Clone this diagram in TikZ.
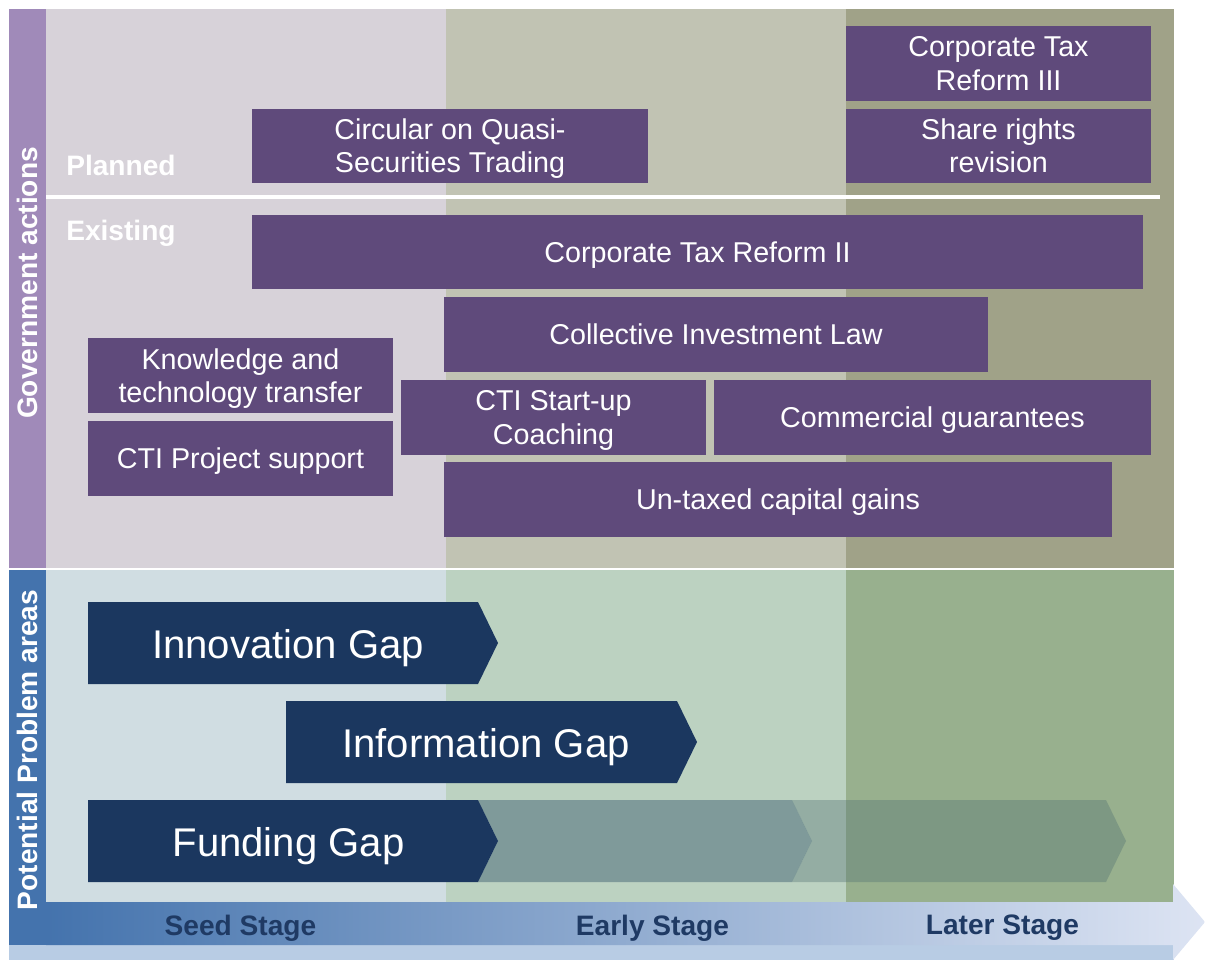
\documentclass[tikz,border=0pt]{standalone}
\usepackage{fontspec}
\setmainfont{Liberation Sans}
\usepackage{xcolor}
\definecolor{actpurple}{HTML}{5F4A7B}
\definecolor{govbar}{HTML}{A08AB9}
\definecolor{probbar}{HTML}{4473AD}
\definecolor{seedtop}{HTML}{D7D2D9}
\definecolor{earlytop}{HTML}{C1C3B3}
\definecolor{latertop}{HTML}{A0A288}
\definecolor{seedbot}{HTML}{D0DDE2}
\definecolor{earlybot}{HTML}{BCD2C1}
\definecolor{laterbot}{HTML}{98B08E}
\definecolor{gapnavy}{HTML}{1B375F}
\definecolor{fundext}{HTML}{7F9A9A}
\definecolor{fundfade}{HTML}{557374}
\definecolor{stagenavy}{HTML}{1F3A64}
\definecolor{stagestrip}{HTML}{B8CCE4}
\definecolor{stagemid}{HTML}{BCCDEA}
\definecolor{stageright}{HTML}{DDE4F3}
\usepackage{tikz}
\newcommand{\pxu}{0.025cm}
\tikzset{
  act/.style={fill=actpurple, text=white, align=center, inner sep=0pt,
    text depth=-2pt, font=\fontsize{20.4}{23.5}\selectfont},
  gaplabel/.style={text=white, inner sep=0pt, font=\fontsize{28.5}{32}\selectfont},
  sidelabel/.style={text=white, rotate=90, font=\bfseries\fontsize{20}{24}\selectfont},
  rowlabel/.style={text=white, anchor=west, inner sep=0pt, font=\bfseries\fontsize{20}{24}\selectfont},
  stagelabel/.style={text=stagenavy, font=\bfseries\fontsize{20}{24}\selectfont},
}

\begin{document}
\begin{tikzpicture}[x=\pxu, y=-\pxu]
  \useasboundingbox (0,0) rectangle (1205,960);
  % Stage backgrounds
  \foreach \xa/\xb/\ctop/\cbot in {46/446/seedtop/seedbot,
      446/846/earlytop/earlybot, 846/1174/latertop/laterbot} {
    \fill[\ctop] (\xa,9) rectangle (\xb,568);
    \fill[\cbot] (\xa,570) rectangle (\xb,902);
  }
  % Side bars
  \fill[govbar] (9,9) rectangle (46,568);
  \fill[probbar] (9,570) rectangle (46,945);
  \node[sidelabel] (gov) at (27.5,283) {Government actions};
  \node[sidelabel] (prob) at (27.5,750) {Potential Problem areas};

  % Stage axis
  \fill[stagestrip] (9,945) rectangle (1174,960);
  \shade[left color=probbar, middle color=stagemid, right color=stageright]
    (46,902) -- (1173,902) -- (1173,884) -- (1205,922) -- (1173,960)
    -- (1173,945) -- (46,945) -- cycle;
  \node[stagelabel] (seed) at (240.5,928) {Seed Stage};
  \node[stagelabel] (early) at (652.5,928) {Early Stage};
  \node[stagelabel] (later) at (1002.5,928) {Later Stage};

  % Planned / existing split
  \draw[white, line width=2.2pt] (46,197) -- (1160,197);
  \node[rowlabel] (planned) at (66,165) {Planned};
  \node[rowlabel] (existing) at (66,233) {Existing};

  % Government actions
  \node[act, minimum width=396*\pxu, minimum height=74*\pxu] (quasi) at (450,146)
    {Circular on Quasi-\\Securities Trading};
  \node[act, minimum width=305*\pxu, minimum height=75*\pxu] (ctr3) at (998.5,63.5)
    {Corporate Tax\\Reform III};
  \node[act, minimum width=305*\pxu, minimum height=74*\pxu] (share) at (998.5,146)
    {Share rights\\revision};
  \node[act, minimum width=891*\pxu, minimum height=74*\pxu] (ctr2) at (697.5,252)
    {Corporate Tax Reform II};
  \node[act, minimum width=544*\pxu, minimum height=75*\pxu] (cil) at (716,334.5)
    {Collective Investment Law};
  \node[act, minimum width=305*\pxu, minimum height=75*\pxu] (ktt) at (240.5,375.5)
    {Knowledge and\\technology transfer};
  \node[act, minimum width=305*\pxu, minimum height=75*\pxu] (ctips) at (240.5,458.5)
    {CTI Project support};
  \node[act, minimum width=305*\pxu, minimum height=75*\pxu] (coach) at (553.5,417.5)
    {CTI Start-up\\Coaching};
  \node[act, minimum width=437*\pxu, minimum height=75*\pxu] (guar) at (932.5,417.5)
    {Commercial guarantees};
  \node[act, minimum width=668*\pxu, minimum height=75*\pxu] (untax) at (778,499.5)
    {Un-taxed capital gains};

  % Problem areas
  \fill[gapnavy] (88,602) -- (478,602) -- (498,643) -- (478,684) -- (88,684) -- cycle;
  \node[gaplabel] (innov) at (288,648) {Innovation Gap};
  \fill[gapnavy] (286,701) -- (677,701) -- (697,742) -- (677,783) -- (286,783) -- cycle;
  \node[gaplabel] (info) at (486,747) {Information Gap};
  \fill[fundext] (478,800) -- (792,800) -- (812,841) -- (792,882) -- (478,882)
    -- (498,841) -- cycle;
  \fill[fundfade, fill opacity=0.39] (792,800) -- (1106,800) -- (1126,841)
    -- (1106,882) -- (792,882) -- (812,841) -- cycle;
  \fill[gapnavy] (88,800) -- (478,800) -- (498,841) -- (478,882) -- (88,882) -- cycle;
  \node[gaplabel] (fund) at (288.5,846) {Funding Gap};
\end{tikzpicture}
\end{document}
